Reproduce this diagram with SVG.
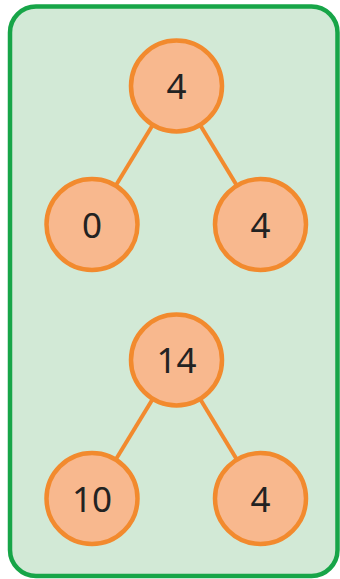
<svg xmlns="http://www.w3.org/2000/svg" width="340" height="579" viewBox="0 0 340 579">
<style>
.bg{fill:#d2e9d6;stroke:#17a548;stroke-width:4.5}
.edge{stroke:#f28a2e;stroke-width:4;fill:none}
.node circle{fill:#f8b88e;stroke:#f28a2e;stroke-width:4.5}
.node text{font-family:"Noto Sans","DejaVu Sans",sans-serif;font-size:35px;fill:#222;text-anchor:middle}
</style>
<rect class="bg" x="10" y="6.5" width="327.5" height="569.5" rx="26"/>
<g id="connectors">
<line class="edge" x1="176.5" y1="86" x2="92" y2="224.5"/>
<line class="edge" x1="176.5" y1="86" x2="260.5" y2="224.5"/>
<line class="edge" x1="176.5" y1="360" x2="92" y2="498.5"/>
<line class="edge" x1="176.5" y1="360" x2="260.5" y2="498.5"/>
</g>
<g id="n1" class="node"><circle cx="176.5" cy="86" r="45.5"/><text x="176.5" y="99">4</text></g>
<g id="n2" class="node"><circle cx="92" cy="224.5" r="45.5"/><text x="92" y="237.5">0</text></g>
<g id="n3" class="node"><circle cx="260.5" cy="224.5" r="45.5"/><text x="260.5" y="237.5">4</text></g>
<g id="n4" class="node"><circle cx="176.5" cy="360" r="45.5"/><text x="176.5" y="373">14</text></g>
<g id="n5" class="node"><circle cx="92" cy="498.5" r="45.5"/><text x="92" y="511.5">10</text></g>
<g id="n6" class="node"><circle cx="260.5" cy="498.5" r="45.5"/><text x="260.5" y="511.5">4</text></g>
</svg>
